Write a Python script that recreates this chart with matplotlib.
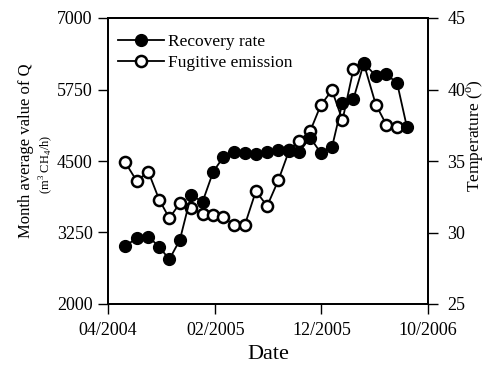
import matplotlib
matplotlib.use("Agg")
import matplotlib.pyplot as plt
import pandas as pd

plt.rcParams['font.family'] = ['Liberation Serif', 'DejaVu Serif']
plt.rcParams['mathtext.fontset'] = 'custom'
plt.rcParams['mathtext.rm'] = 'Liberation Serif'

# sampling dates
dates = pd.to_datetime([
    "2004-05-19", "2004-06-22", "2004-07-25", "2004-08-25", "2004-09-23",
    "2004-10-23", "2004-11-24", "2004-12-27", "2005-01-26", "2005-02-24",
    "2005-03-26", "2005-04-26", "2005-05-28", "2005-06-29", "2005-07-31",
    "2005-08-31", "2005-09-28", "2005-10-30", "2005-11-29", "2005-12-31",
    "2006-01-30", "2006-03-02", "2006-04-01", "2006-05-05", "2006-06-04",
    "2006-07-05", "2006-08-02"])

# recovery rate, m3 CH4/h (left axis)
recovery = [3010, 3150, 3180, 3000, 2780, 3120, 3900, 3790, 4310, 4570,
            4650, 4640, 4620, 4650, 4690, 4680, 4660, 4910, 4640, 4740,
            5520, 5580, 6210, 5990, 6020, 5860, 5090]

# fugitive emission plotted against temperature axis (right)
fugitive = [34.95, 33.6, 34.25, 32.3, 31.0, 32.05, 31.7, 31.3, 31.25, 31.05,
            30.55, 30.5, 32.9, 31.85, 33.65, 35.75, 36.4, 37.1, 38.9, 39.95,
            37.85, 41.4, 41.8, 38.95, 37.55, 37.35]

xtick_dates = pd.to_datetime(["2004-04-01", "2005-02-01", "2005-12-01", "2006-10-01"])
xtick_labels = ["04/2004", "02/2005", "12/2005", "10/2006"]
left_ticks = [2000, 3250, 4500, 5750, 7000]
right_ticks = [25, 30, 35, 40, 45]

fig = plt.figure(figsize=(4.87, 3.65), dpi=100)
ax = fig.add_axes([108/487, 61/365, 320/487, 286/365])
ax2 = ax.twinx()

l1, = ax.plot(dates, recovery, color='black', lw=1.3, marker='o',
              ms=8.5, mfc='black', mec='black', zorder=3)
l2, = ax2.plot(dates[:len(fugitive)], fugitive, color='black', lw=1.3, marker='o',
               ms=8, mfc='white', mec='black', mew=1.8, zorder=2)

# keep filled markers on top of open ones
ax.set_zorder(ax2.get_zorder() + 1)
ax.patch.set_visible(False)

ax.set_xlim(xtick_dates[0], xtick_dates[-1])
ax.set_ylim(2000, 7000)
ax2.set_ylim(25, 45)
ax.set_xticks(xtick_dates)
ax.set_xticklabels(xtick_labels)
ax.set_yticks(left_ticks)
ax2.set_yticks(right_ticks)

for a in (ax, ax2):
    for s in a.spines.values():
        s.set_linewidth(1.3)
    a.tick_params(direction='out', length=7, width=1, labelsize=13)
ax.tick_params(axis='x', pad=6)
ax.tick_params(axis='y', pad=4)
ax2.tick_params(axis='y', pad=7)

ax.set_xlabel("Date", fontsize=16, labelpad=4)

fig.text(26/487, 1 - 151/365, "Month average value of Q", rotation=90,
         fontsize=12, ha='center', va='center')
fig.text(46/487, 1 - 164/365, r"(m$^3$ CH$_4$/h)", rotation=90,
         fontsize=9, ha='center', va='center')
fig.text(475/487, 1 - 136/365, r"Temperature ($^{\rm o}$)", rotation=90,
         fontsize=12.5, ha='center', va='center')

ax.legend([l1, l2], ["Recovery rate", "Fugitive emission"], loc='upper left',
          bbox_to_anchor=(0.0, 0.98), frameon=False, fontsize=12.5,
          handlelength=2.6, handletextpad=0.25, labelspacing=0.25, borderaxespad=0.2)

fig.savefig("out.png", dpi=100)
